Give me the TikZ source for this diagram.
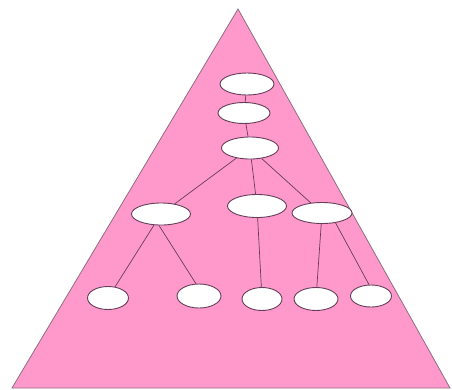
\documentclass[tikz,border=0pt]{standalone}
\usetikzlibrary{shapes.geometric}
\definecolor{pyramidpink}{RGB}{255,153,204}
\definecolor{rim}{RGB}{140,110,128}
\definecolor{twig}{RGB}{100,62,88}
\tikzset{
  cell/.style={
    shape = ellipse,
    draw = twig,
    fill = white,
    inner sep = 0pt,
    line width = 0.9pt
  },
  branch/.style={
    draw = twig,
    line width = 0.7pt
  },
}
\begin{document}
\begin{tikzpicture}[x=1pt,y=-1pt]
         \useasboundingbox (0,0) rectangle (452,389);

         \filldraw[fill=pyramidpink, draw=rim, line width=0.8pt] (238,9) -- (450,388) -- (12,388) -- cycle;

         % top chain
         \node[cell, minimum width=54pt, minimum height=22pt] (n1) at (247,84) {};
         \node[cell, minimum width=52pt, minimum height=21pt] (n2) at (244,113) {};
         \node[cell, minimum width=57pt, minimum height=22pt] (n3) at (250,148) {};

         % middle row
         \node[cell, minimum width=59pt, minimum height=22pt] (m1) at (161,214) {};
         \node[cell, minimum width=59pt, minimum height=23pt] (m2) at (257,206) {};
         \node[cell, minimum width=60pt, minimum height=21pt] (m3) at (322,213) {};

         % bottom row
         \node[cell, minimum width=41pt, minimum height=23pt] (l1) at (108,298) {};
         \node[cell, minimum width=44pt, minimum height=24pt] (l2) at (199,296) {};
         \node[cell, minimum width=40pt, minimum height=23pt] (l3) at (262,299) {};
         \node[cell, minimum width=44pt, minimum height=23pt] (l4) at (316,299) {};
         \node[cell, minimum width=41pt, minimum height=22pt] (l5) at (371,296) {};

         \draw[branch] (n1) -- (n2);
         \draw[branch] (n2) -- (n3);
         \draw[branch] (n3) -- (m1);
         \draw[branch] (n3) -- (m2);
         \draw[branch] (n3) -- (m3);
         \draw[branch] (m1) -- (l1);
         \draw[branch] (m1.260) -- (l2.104);
         \draw[branch] (m2) -- (l3);
         \draw[branch] (m3) -- (l4);
         \draw[branch] (m3.-36) -- (l5.100);

    \end{tikzpicture}
\end{document}
